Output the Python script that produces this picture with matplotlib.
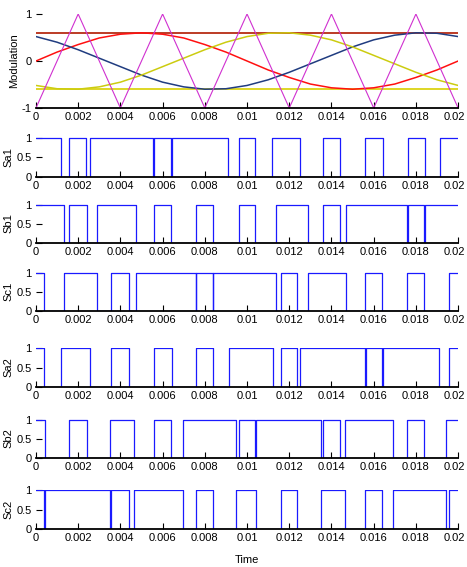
import numpy as np
import matplotlib
matplotlib.use("Agg")
from matplotlib import pyplot as plt
import matplotlib.transforms as mtransforms

plt.rcParams["font.family"] = ["Liberation Sans Narrow", "Liberation Sans", "DejaVu Sans"]

# time axis of the modulation panel (1 ms steps)
t_mod = [i * 0.001 for i in range(21)]

# three phase references
ref_a = [0, 0.19, 0.35, 0.49, 0.57, 0.60, 0.57, 0.49, 0.35, 0.19, 0,
         -0.19, -0.35, -0.49, -0.57, -0.60, -0.57, -0.49, -0.35, -0.19, 0]
ref_b = [0.52, 0.40, 0.24, 0.06, -0.12, -0.30, -0.45, -0.55, -0.60, -0.59, -0.52,
         -0.40, -0.24, -0.06, 0.12, 0.30, 0.45, 0.55, 0.60, 0.59, 0.52]
ref_c = [-0.52, -0.59, -0.60, -0.55, -0.45, -0.30, -0.12, 0.06, 0.24, 0.40, 0.52,
         0.59, 0.60, 0.55, 0.45, 0.30, 0.12, -0.06, -0.24, -0.40, -0.52]
env_max = 0.6
env_min = -0.6

# triangular carrier vertices
carrier_t = [0, 0.002, 0.004, 0.006, 0.008, 0.01, 0.012, 0.014, 0.016, 0.018, 0.02]
carrier_v = [-1, 1, -1, 1, -1, 1, -1, 1, -1, 1, -1]

# switching instants (signal starts at 1 and toggles at each time)
sa1_edges = [0.00118, 0.00156, 0.00238, 0.00256, 0.00556, 0.00558, 0.00638, 0.00646,
             0.00912, 0.0096, 0.01036, 0.0112, 0.01253, 0.0136, 0.0144, 0.01561,
             0.01642, 0.01762, 0.01842, 0.01913]
sb1_edges = [0.00133, 0.00156, 0.0024, 0.0029, 0.00474, 0.00557, 0.00638, 0.00758,
             0.00837, 0.0096, 0.01039, 0.01137, 0.01288, 0.0136, 0.0144, 0.01471,
             0.0176, 0.01762, 0.01839, 0.01841]
sc1_edges = [0.00039, 0.00133, 0.0029, 0.00357, 0.00439, 0.00474, 0.00756, 0.00758,
             0.00837, 0.00839, 0.01135, 0.01159, 0.01239, 0.0129, 0.01471, 0.01561,
             0.0164, 0.0176, 0.01839, 0.01959]
sa2_edges = [0.00039, 0.0012, 0.00256, 0.00357, 0.00439, 0.00557, 0.00644, 0.00758,
             0.00837, 0.00914, 0.01121, 0.01159, 0.01239, 0.01253, 0.01561, 0.01563,
             0.0164, 0.01642, 0.0191, 0.01959]
sb2_edges = [0.00043, 0.00158, 0.0024, 0.0035, 0.00463, 0.00557, 0.00638, 0.00695,
             0.00946, 0.0096, 0.01036, 0.01043, 0.01351, 0.0136, 0.0144, 0.01463,
             0.01692, 0.0176, 0.01839, 0.01943]
sc2_edges = [0.00039, 0.00041, 0.0035, 0.00356, 0.00439, 0.00463, 0.00695, 0.00758,
             0.00837, 0.00946, 0.01043, 0.01159, 0.01239, 0.0135, 0.01463, 0.01561,
             0.0164, 0.01692, 0.01943, 0.01959]

switch_names = ["Sa1", "Sb1", "Sc1", "Sa2", "Sb2", "Sc2"]
switch_edges = [sa1_edges, sb1_edges, sc1_edges, sa2_edges, sb2_edges, sc2_edges]

xticks = [0, 0.002, 0.004, 0.006, 0.008, 0.01, 0.012, 0.014, 0.016, 0.018, 0.02]
xticklabels = ["0", "0.002", "0.004", "0.006", "0.008", "0.01", "0.012",
               "0.014", "0.016", "0.018", "0.02"]


def style_axis(ax, yticks, yticklabels):
    for side in ["top", "right", "left"]:
        ax.spines[side].set_visible(False)
    ax.spines["bottom"].set_linewidth(1.3)
    ax.set_xlim(0, 0.02)
    ax.set_xticks(xticks)
    ax.set_xticklabels(xticklabels)
    ax.set_yticks(yticks)
    ax.set_yticklabels(yticklabels)
    ax.tick_params(direction="in", length=4, width=0.8, labelsize=8, pad=3)
    # nudge the last label a little so it stays inside the figure
    last = ax.get_xticklabels()[-1]
    shift = mtransforms.ScaledTranslation(-4 / 100, 0, ax.figure.dpi_scale_trans)
    last.set_transform(last.get_transform() + shift)


def step_signal(edges):
    xs = [0.0]
    ys = [1]
    level = 1
    for e in edges:
        xs += [e, e]
        ys += [level, 1 - level]
        level = 1 - level
    xs.append(0.02)
    ys.append(level)
    return xs, ys


fig = plt.figure(figsize=(4.67, 5.67), dpi=100)
left, width = 0.077, 0.904

ax0 = fig.add_axes([left, 0.8095, width, 0.1658])
ax0.plot(t_mod, [env_max] * len(t_mod), color="#b01a00", lw=1.2)
ax0.plot(t_mod, [env_min] * len(t_mod), color="#d8d000", lw=1.2)
ax0.plot(t_mod, ref_a, color="#ff1010", lw=1.1)
ax0.plot(t_mod, ref_b, color="#203c80", lw=1.1)
ax0.plot(t_mod, ref_c, color="#cccc10", lw=1.1)
ax0.plot(carrier_t, carrier_v, color="#d030d0", lw=0.8)
ax0.set_ylim(-1, 1)
style_axis(ax0, [-1, 0, 1], ["-1", "0", "1"])
ax0.set_ylabel("Modulation", fontsize=8, labelpad=2)

rects = [
    (0.6878, 0.0706),
    (0.5720, 0.0682),
    (0.4520, 0.0683),
    (0.3175, 0.0693),
    (0.1922, 0.0688),
    (0.0675, 0.0688),
]

for name, edges, (bottom, h) in zip(switch_names, switch_edges, rects):
    ax = fig.add_axes([left, bottom, width, h])
    xs, ys = step_signal(edges)
    ax.plot(xs, ys, color="#1a1aff", lw=0.9)
    ax.set_ylim(0, 1.02)
    style_axis(ax, [0, 0.5, 1], ["0", "0.5", "1"])
    ax.set_ylabel(name, fontsize=8, labelpad=2)
    if name == "Sc2":
        ax.set_xlabel("Time", fontsize=8, labelpad=9)

fig.savefig("out.png", dpi=100)
